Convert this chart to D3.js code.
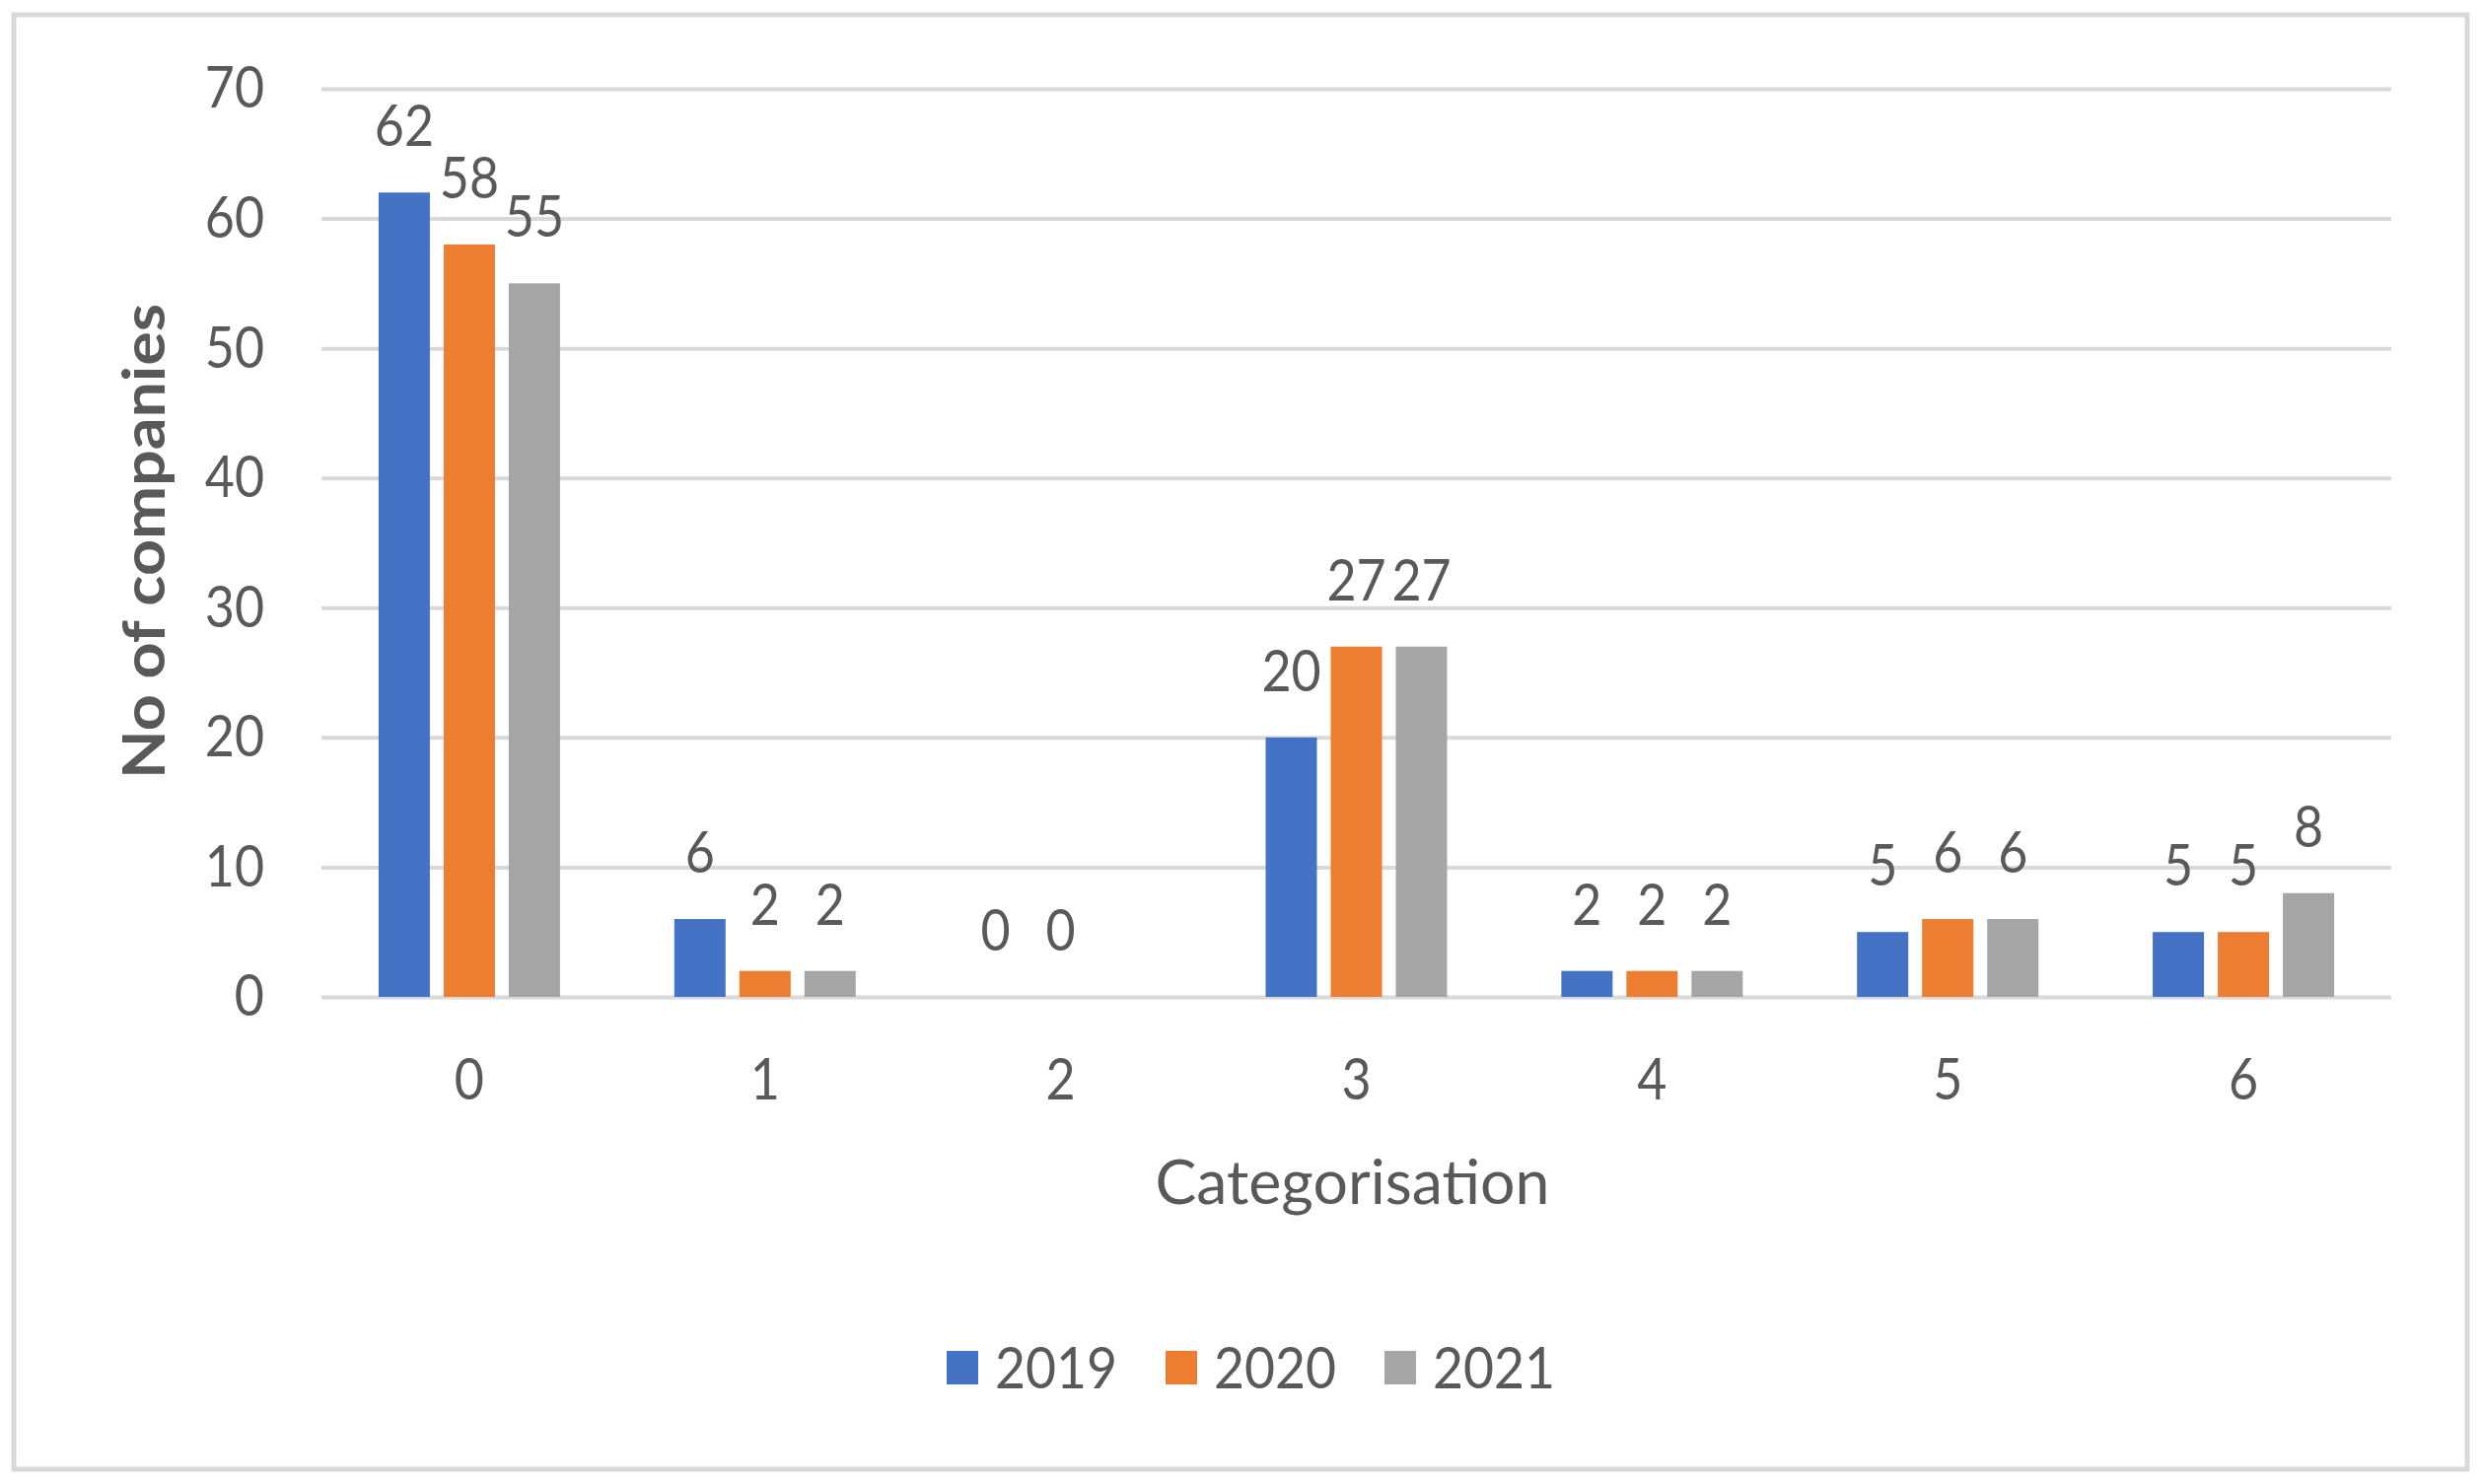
<!DOCTYPE html>
<html>
<head>
<meta charset="utf-8">
<script src="https://cdn.jsdelivr.net/npm/d3@7"></script>
<style>
  html, body { margin: 0; padding: 0; background: #ffffff; }
  svg { display: block; }
  text { font-family: Lato, "Open Sans", sans-serif; fill: #595959; }
</style>
</head>
<body>
<svg id="chart" width="2517" height="1505"></svg>
<script>
// ---- data ----
const categories = ["0", "1", "2", "3", "4", "5", "6"];
const seriesNames = ["2019", "2020", "2021"];
const values2019 = [62, 6, 0, 20, 2, 5, 5];
const values2020 = [58, 2, 0, 27, 2, 6, 5];
const values2021 = [55, 2, null, 27, 2, 6, 8];
const yTicks = [0, 10, 20, 30, 40, 50, 60, 70];
const xTitle = "Categorisation";
const yTitle = "No of companies";
const colors = ["#4472C4", "#ED7D31", "#A5A5A5"];

const seriesValues = [values2019, values2020, values2021];

// ---- layout ----
const W = 2517, H = 1505;
const plot = { left: 326, right: 2425, top: 90, bottom: 1011 };
const fontSize = 59;
const narrowK = 0.88;

const svg = d3.select("#chart");

svg.append("rect")
  .attr("x", 14).attr("y", 15)
  .attr("width", 2488).attr("height", 1475)
  .attr("fill", "#ffffff")
  .attr("stroke", "#d9d9d9")
  .attr("stroke-width", 5);

const x0 = d3.scaleBand().domain(categories).range([plot.left, plot.right]).padding(0);
const x1 = d3.scaleBand().domain(seriesNames).range([-92, 92]).paddingInner(14 / 66).paddingOuter(0);
const y = d3.scaleLinear().domain([0, 70]).range([plot.bottom, plot.top]);

function narrow(sel, k) {
  sel.each(function () {
    const len = this.getComputedTextLength();
    if (len > 0) {
      d3.select(this).attr("textLength", len * k).attr("lengthAdjust", "spacingAndGlyphs");
    }
  });
}

// y axis with gridlines
const yAxis = svg.append("g")
  .attr("transform", `translate(${plot.left},0)`)
  .call(d3.axisLeft(y).tickValues(yTicks).tickSize(-(plot.right - plot.left)).tickPadding(58).tickFormat(d3.format("d")));
yAxis.select(".domain").remove();
yAxis.selectAll(".tick line").attr("stroke", "#d9d9d9").attr("stroke-width", 4);
yAxis.selectAll(".tick text")
  .attr("font-size", fontSize)
  .style("font-family", "Lato, sans-serif")
  .attr("fill", "#595959")
  .call(narrow, narrowK);

// x axis labels
const xAxis = svg.append("g")
  .attr("transform", `translate(0,${plot.bottom})`)
  .call(d3.axisBottom(x0).tickSize(0).tickPadding(62));
xAxis.select(".domain").remove();
xAxis.selectAll(".tick text")
  .attr("font-size", fontSize)
  .style("font-family", "Lato, sans-serif")
  .attr("fill", "#595959")
  .call(narrow, narrowK);

// bars
const flat = [];
categories.forEach((c, i) => {
  seriesNames.forEach((s, j) => {
    flat.push({ cat: c, series: s, value: seriesValues[j][i], color: colors[j] });
  });
});

const barsG = svg.append("g");
barsG.selectAll("rect")
  .data(flat.filter(d => d.value !== null && d.value > 0))
  .join("rect")
  .attr("x", d => x0(d.cat) + x0.bandwidth() / 2 + x1(d.series))
  .attr("y", d => y(d.value))
  .attr("width", x1.bandwidth())
  .attr("height", d => y(0) - y(d.value))
  .attr("fill", d => d.color);

// data labels
svg.append("g").selectAll("text")
  .data(flat.filter(d => d.value !== null))
  .join("text")
  .attr("x", d => x0(d.cat) + x0.bandwidth() / 2 + x1(d.series) + x1.bandwidth() / 2)
  .attr("y", d => y(d.value) - 47)
  .attr("text-anchor", "middle")
  .attr("font-size", fontSize)
  .text(d => d.value)
  .call(narrow, narrowK);

// axis titles
svg.append("text")
  .attr("x", (plot.left + plot.right) / 2 - 4)
  .attr("y", 1221)
  .attr("text-anchor", "middle")
  .attr("font-size", fontSize + 3)
  .text(xTitle)
  .attr("textLength", 400)
  .attr("lengthAdjust", "spacingAndGlyphs");

svg.append("text")
  .attr("transform", `translate(167,549) rotate(-90)`)
  .attr("text-anchor", "middle")
  .attr("font-size", fontSize + 1)
  .attr("font-weight", "bold")
  .text(yTitle)
  .attr("textLength", 482)
  .attr("lengthAdjust", "spacingAndGlyphs");

// legend
const legendX = d3.scalePoint().domain(seriesNames).range([960, 1404]);
const lg = svg.append("g").selectAll("g")
  .data(seriesNames)
  .join("g")
  .attr("transform", d => `translate(${legendX(d)},0)`);
lg.append("rect")
  .attr("x", 0).attr("y", 1370)
  .attr("width", 32).attr("height", 34)
  .attr("fill", (d, i) => colors[i]);
lg.append("text")
  .attr("x", 49).attr("y", 1408)
  .attr("font-size", fontSize)
  .text(d => d)
  .attr("textLength", 124)
  .attr("lengthAdjust", "spacingAndGlyphs");
</script>
</body>
</html>
